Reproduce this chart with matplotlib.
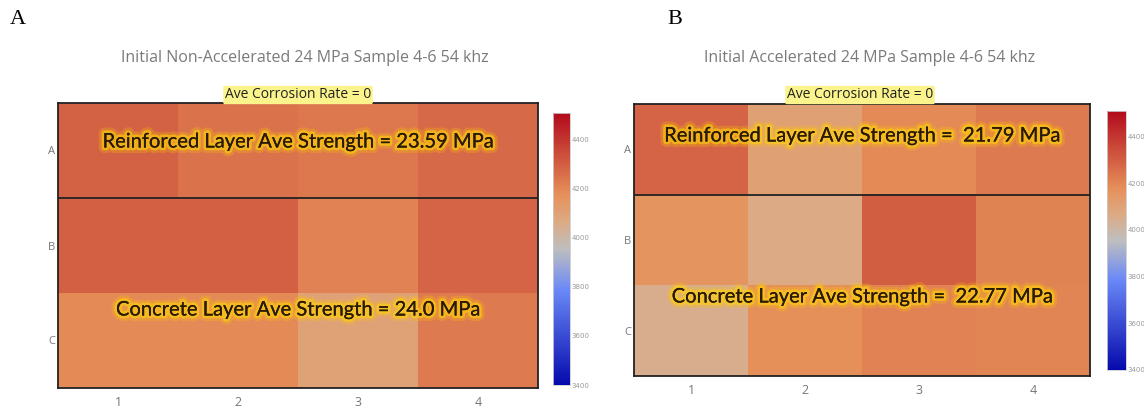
import numpy as np
import matplotlib
matplotlib.use("Agg")
import matplotlib.pyplot as plt
import matplotlib.patheffects as pe
from matplotlib.colors import LinearSegmentedColormap

# heatmap values (colour -> colourbar)
rows = ["A", "B", "C"]
cols = ["1", "2", "3", "4"]
vals_a = [[4290, 4250, 4240, 4275],
          [4295, 4295, 4215, 4285],
          [4190, 4190, 4100, 4230]]
vals_b = [[4285, 4110, 4190, 4230],
          [4160, 4065, 4300, 4210],
          [4050, 4180, 4215, 4205]]
title_a = "Initial Non-Accelerated 24 MPa Sample 4-6 54 khz"
title_b = "Initial Accelerated 24 MPa Sample 4-6 54 khz"
reinf_a = "Reinforced Layer Ave Strength = 23.59 MPa"
conc_a = "Concrete Layer Ave Strength = 24.0 MPa"
reinf_b = "Reinforced Layer Ave Strength =  21.79 MPa"
conc_b = "Concrete Layer Ave Strength =  22.77 MPa"
corrosion = "Ave Corrosion Rate = 0"
cbar_ticks = [3400, 3600, 3800, 4000, 4200, 4400]
vmin, vmax = 3400, 4510

# plotly-style RdBu, reversed (blue low, red high)
cmap = LinearSegmentedColormap.from_list("rdbu_plotly", [
    (0.0, (5/255, 10/255, 172/255)),
    (0.35, (106/255, 137/255, 247/255)),
    (0.5, (190/255, 190/255, 190/255)),
    (0.6, (220/255, 170/255, 132/255)),
    (0.7, (230/255, 145/255, 90/255)),
    (1.0, (178/255, 10/255, 28/255)),
])

W, H = 1144, 417
fig = plt.figure(figsize=(W / 100, H / 100), dpi=100)


def px_axes(x0, y0, x1, y1):
    return fig.add_axes([x0 / W, 1 - y1 / H, (x1 - x0) / W, (y1 - y0) / H])


def fx(x):
    return x / W


def fy(y):
    return 1 - y / H


glow = [pe.withStroke(linewidth=8, foreground=(1.0, 0.78, 0.0, 0.25)),
        pe.withStroke(linewidth=4, foreground=(1.0, 0.82, 0.05, 0.6)),
        pe.Normal()]
label_font = "Open Sans"


def panel(vals, box, cbox, title, reinf, conc, letter, letter_x, title_x, corr_x, y_reinf, y_conc):
    x0, y0, x1, y1 = box
    ax = px_axes(x0, y0, x1, y1)
    im = ax.imshow(np.array(vals), cmap=cmap, vmin=vmin, vmax=vmax, aspect="auto")
    ax.axhline(0.5, color="#222222", lw=1.3)
    for s in ax.spines.values():
        s.set_color("#222222")
        s.set_linewidth(1.3)
    ax.set_xticks(range(len(cols)))
    ax.set_xticklabels(cols, fontsize=9, color="#777777", family=label_font)
    ax.set_yticks(range(len(rows)))
    ax.set_yticklabels(rows, fontsize=8, color="#777777", family=label_font)
    ax.tick_params(length=0, pad=6)
    ax.tick_params(axis="y", pad=2)

    cax = px_axes(*cbox)
    cb = fig.colorbar(im, cax=cax, ticks=cbar_ticks)
    cb.outline.set_edgecolor("#cccccc")
    cb.outline.set_linewidth(0.6)
    cax.tick_params(length=0, labelsize=5, labelcolor="#999999", pad=1)

    fig.text(fx(letter_x), fy(20), letter, family="Liberation Serif", fontsize=16,
             ha="center", va="center", color="black")
    fig.text(fx(title_x), fy(58), title, family="Open Sans", fontsize=11.5,
             ha="center", va="center", color="#7a7a7a")
    fig.text(fx(corr_x), fy(95), corrosion, family="Open Sans", fontsize=10,
             ha="center", va="center", color="#222222",
             bbox=dict(boxstyle="round,pad=0.12", fc="#fbf48c", ec="none"))
    xc = (x0 + x1) / 2
    for txt, yy in [(reinf, y_reinf), (conc, y_conc)]:
        fig.text(fx(xc), fy(yy), txt, family="Lato", fontsize=14.5,
                 ha="center", va="center", color="#2a1a05", path_effects=glow)


panel(vals_a, (58, 103, 538, 388), (553, 113, 570, 385), title_a, reinf_a, conc_a,
      "A", 18, 305, 298, 142, 310)
panel(vals_b, (634, 104, 1090, 376), (1107, 111, 1126, 370), title_b, reinf_b, conc_b,
      "B", 675, 870, 860, 136, 297)

fig.savefig("out.png", dpi=100)
